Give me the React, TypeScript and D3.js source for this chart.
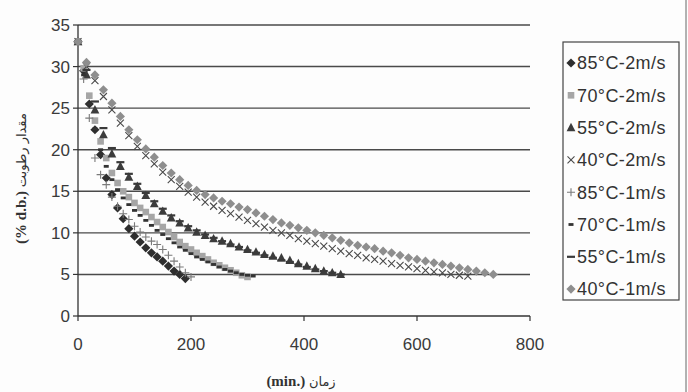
import React from "react";
import * as d3 from "d3";

// sampling: each series starts at t = 0 and uses its own step (min)
const seriesNames = [
  "85°C-2m/s",
  "70°C-2m/s",
  "55°C-2m/s",
  "40°C-2m/s",
  "85°C-1m/s",
  "70°C-1m/s",
  "55°C-1m/s",
  "40°C-1m/s",
];
const seriesSteps = [10, 10, 15, 15, 10, 10, 15, 15];

const m85_2 = [33, 29.5, 25.5, 22.4, 19.4, 16.6, 14.6, 13.0, 11.7, 10.5, 9.6, 8.9, 8.2, 7.6, 7.1, 6.6, 6.0, 5.4, 5.0, 4.5];
const m70_2 = [33, 29.8, 26.5, 23.5, 21.0, 19.0, 17.2, 16.0, 15.0, 14.3, 13.6, 13.0, 12.5, 11.9, 11.3, 10.7, 10.1, 9.5, 8.9, 8.4, 8.0, 7.6, 7.2, 6.8, 6.4, 6.1, 5.8, 5.5, 5.2, 4.9, 4.7];
const m55_2 = [33, 29.0, 24.8, 21.8, 19.5, 18.0, 16.7, 15.6, 14.5, 13.5, 12.6, 11.8, 11.2, 10.6, 10.1, 9.7, 9.3, 9.0, 8.7, 8.3, 8.0, 7.7, 7.4, 7.2, 7.0, 6.7, 6.3, 6.0, 5.7, 5.4, 5.2, 5.0];
const m40_2 = [33, 30.0, 28.3, 26.4, 24.8, 23.2, 21.7, 20.4, 19.3, 18.3, 17.3, 16.4, 15.6, 14.9, 14.3, 13.7, 13.2, 12.7, 12.3, 11.9, 11.5, 11.1, 10.7, 10.3, 10.0, 9.7, 9.3, 9.0, 8.7, 8.4, 8.1, 7.8, 7.5, 7.3, 7.0, 6.8, 6.6, 6.3, 6.1, 5.9, 5.7, 5.5, 5.3, 5.2, 5.0, 4.9, 4.8];
const m85_1 = [33, 28.5, 23.8, 19.0, 17.0, 15.8, 14.3, 13.2, 12.3, 11.6, 10.8, 10.1, 9.5, 9.0, 8.6, 8.0, 7.3, 6.6, 5.9, 5.2, 4.7];
const m70_1 = [33, 29.0, 25.5, 22.5, 20.0, 18.0, 16.4, 15.2, 14.2, 13.4, 12.7, 12.1, 11.5, 10.9, 10.3, 9.8, 9.3, 8.8, 8.3, 7.9, 7.5, 7.1, 6.8, 6.5, 6.2, 5.9, 5.6, 5.4, 5.2, 5.0, 4.9, 4.8];
const m55_1 = [33, 29.6, 25.8, 22.6, 20.2, 18.5, 17.1, 15.9, 14.8, 13.8, 12.9, 12.1, 11.4, 10.8, 10.3, 9.8, 9.4, 9.0, 8.6, 8.3, 7.9, 7.6, 7.3, 7.0, 6.7, 6.5, 6.2, 5.9, 5.6, 5.4, 5.2, 5.0];
const m40_1 = [33, 30.5, 29.0, 27.2, 25.6, 24.0, 22.4, 21.2, 20.1, 19.1, 18.1, 17.2, 16.4, 15.7, 15.1, 14.6, 14.2, 13.8, 13.5, 13.1, 12.8, 12.4, 12.0, 11.6, 11.2, 10.9, 10.6, 10.3, 10.0, 9.7, 9.4, 9.1, 8.8, 8.5, 8.3, 8.1, 7.8, 7.6, 7.3, 7.0, 6.8, 6.6, 6.4, 6.2, 6.0, 5.8, 5.6, 5.4, 5.2, 5.0];

const seriesValues = [m85_2, m70_2, m55_2, m40_2, m85_1, m70_1, m55_1, m40_1];

const xTicks = [0, 200, 400, 600, 800];
const yTicks = [0, 5, 10, 15, 20, 25, 30, 35];

const W = 688;
const H = 392;
const plot = { left: 78, right: 530, top: 25, bottom: 316 };

const x = d3.scaleLinear().domain([0, 800]).range([plot.left, plot.right]);
const y = d3.scaleLinear().domain([0, 35]).range([plot.bottom, plot.top]);

function Marker({ kind, cx, cy }: { kind: number; cx: number; cy: number }) {
  const t = `translate(${cx},${cy})`;
  switch (kind) {
    case 0:
      return <path transform={t} d="M0,-4.6L4.6,0L0,4.6L-4.6,0Z" fill="#2e2e2e" />;
    case 1:
      return <rect transform={t} x={-3.3} y={-3.3} width={6.6} height={6.6} fill="#a6a6a6" />;
    case 2:
      return <path transform={t} d="M0,-4.8L4.4,3.6L-4.4,3.6Z" fill="#3c3c3c" />;
    case 3:
      return <path transform={t} d="M-3.5,-3.5L3.5,3.5M3.5,-3.5L-3.5,3.5" stroke="#4a4a4a" strokeWidth={1.1} fill="none" />;
    case 4:
      return <path transform={t} d="M-4,0L4,0M0,-4L0,4" stroke="#7a7a7a" strokeWidth={1.1} fill="none" />;
    case 5:
      return <rect transform={t} x={-2.5} y={-1.4} width={5} height={2.8} fill="#333" />;
    case 6:
      return <rect transform={t} x={-4} y={-1.1} width={8} height={2.2} fill="#3a3a3a" />;
    default:
      return <path transform={t} d="M0,-4.6L4.6,0L0,4.6L-4.6,0Z" fill="#8e8e8e" />;
  }
}

export default function App() {
  const font = "'Liberation Sans', Arial, sans-serif";
  const serif = "'Liberation Serif', serif";
  const arabic = "'DejaVu Sans', sans-serif";
  return (
    <svg
      width={W}
      height={H}
      viewBox={`0 0 ${W} ${H}`}
      style={{ position: "absolute", left: 0, top: 0, background: "#fff" }}
    >
      <rect width={W} height={H} fill="#fdfdfd" />
      {/* gridlines */}
      {yTicks.filter((d) => d > 0).map((d) => (
        <line key={d} x1={plot.left} x2={plot.right} y1={y(d)} y2={y(d)} stroke="#4a4a4a" strokeWidth={1.4} />
      ))}
      {/* axes */}
      <line x1={plot.left} x2={plot.left} y1={plot.top} y2={plot.bottom} stroke="#333" strokeWidth={1.3} />
      <line x1={plot.left} x2={plot.right} y1={plot.bottom} y2={plot.bottom} stroke="#333" strokeWidth={1.3} />
      {yTicks.map((d) => (
        <g key={d}>
          <line x1={plot.left - 5} x2={plot.left} y1={y(d)} y2={y(d)} stroke="#333" strokeWidth={1.2} />
          <text x={plot.left - 8} y={y(d)} dy="0.35em" textAnchor="end" fontFamily={font} fontSize={17} fill="#3a3a3a">
            {d}
          </text>
        </g>
      ))}
      {xTicks.map((d) => (
        <g key={d}>
          <line x1={x(d)} x2={x(d)} y1={plot.bottom} y2={plot.bottom + 5} stroke="#333" strokeWidth={1.2} />
          <text x={x(d)} y={plot.bottom + 34} textAnchor="middle" fontFamily={font} fontSize={17} fill="#3a3a3a">
            {d}
          </text>
        </g>
      ))}
      {/* data */}
      {seriesValues.map((vals, si) => (
        <g key={si}>
          {vals.map((v, i) => (
            <Marker key={i} kind={si} cx={x(i * seriesSteps[si])} cy={y(v)} />
          ))}
        </g>
      ))}
      {/* axis titles */}
      <text x={301} y={386} textAnchor="middle" fontSize={15} fill="#333">
        <tspan fontFamily={serif} fontWeight="bold">(min.) </tspan>
        <tspan fontFamily={arabic} fontSize={13}>زمان</tspan>
      </text>
      <text
        transform={`translate(26,${(plot.top + plot.bottom) / 2 + 8}) rotate(-90)`}
        textAnchor="middle"
        fontSize={15}
        fill="#333"
      >
        <tspan fontFamily={serif} fontWeight="bold">(% d.b.) </tspan>
        <tspan fontFamily={arabic} fontSize={13}>مقدار رطوبت</tspan>
      </text>
      {/* legend */}
      <rect x={563} y={42} width={116} height={258} fill="none" stroke="#444" strokeWidth={1.2} />
      {seriesNames.map((name, i) => {
        const ly = 63 + i * 32.3;
        return (
          <g key={name}>
            <Marker kind={i} cx={571} cy={ly} />
            <text x={577} y={ly} dy="0.35em" fontFamily={font} fontSize={18} fill="#333" letterSpacing={0.4}>
              {name}
            </text>
          </g>
        );
      })}
      <line x1={686} x2={686} y1={0} y2={H} stroke="#666" strokeWidth={1} />
    </svg>
  );
}
